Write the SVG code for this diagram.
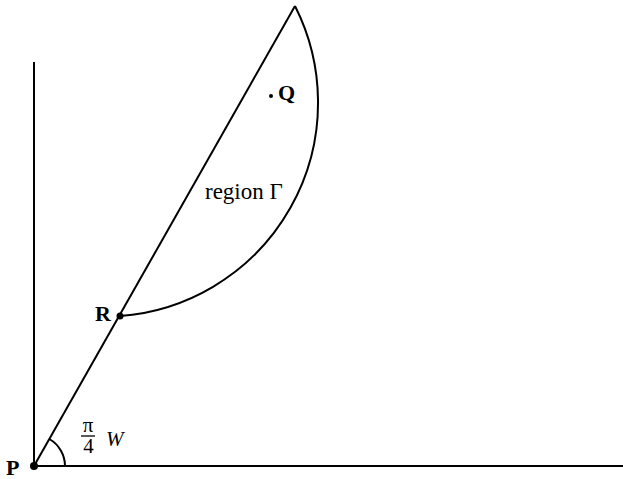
<svg xmlns="http://www.w3.org/2000/svg" width="623" height="479" viewBox="0 0 623 479">
<style>
.ln{stroke:#000;stroke-width:2;fill:none}
.lbl{font-family:"Liberation Serif","Times New Roman",serif;fill:#000}
.b{font-weight:bold;font-size:22px}
.m{font-size:21px}
</style>
<rect width="623" height="479" fill="#fff"/>
<g id="connectors">
<line class="ln" x1="34" y1="62" x2="34" y2="466"/>
<line class="ln" x1="34" y1="466" x2="623" y2="466"/>
<line class="ln" x1="34" y1="466" x2="295" y2="6"/>
<path class="ln" d="M120,316 A214,214 0 0 0 295,6"/>
<path class="ln" d="M65,466 A31,31 0 0 0 49.3,439"/>
</g>
<g id="P">
<circle cx="34" cy="466" r="4"/>
<text class="lbl b" x="6" y="475">P</text>
</g>
<g id="R">
<circle cx="120" cy="316" r="3.5"/>
<text class="lbl b" x="95" y="321">R</text>
</g>
<g id="Q">
<circle cx="271" cy="96" r="2"/>
<text class="lbl b" x="278" y="100">Q</text>
</g>
<g id="region">
<text class="lbl" font-size="23" x="205" y="199">region Γ</text>
</g>
<g id="angle">
<text class="lbl m" x="88" y="432" text-anchor="middle">π</text>
<line x1="81" y1="436" x2="95" y2="436" stroke="#000" stroke-width="1.3"/>
<text class="lbl m" x="88.5" y="453" text-anchor="middle">4</text>
<text class="lbl m" x="106" y="446" font-style="italic">W</text>
</g>
</svg>
